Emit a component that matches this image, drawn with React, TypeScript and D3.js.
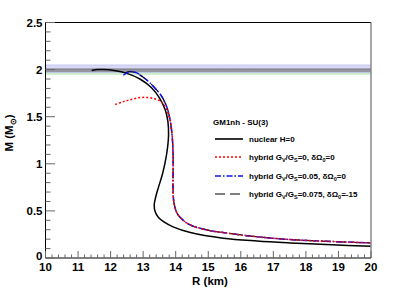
import React from 'react'
import * as d3 from 'd3'

// mass-radius curves, R in km, M in solar masses
const nuclearR = [11.42, 11.6, 11.8, 12.1, 12.5, 12.9, 13.25, 13.5, 13.68, 13.76, 13.78, 13.72, 13.6, 13.47, 13.38, 13.34, 13.37, 13.47, 13.65, 13.92, 14.45, 15.46, 16.5, 17.52, 18.8, 20]
const nuclearM = [1.99, 2.0, 2.0, 1.99, 1.96, 1.9, 1.81, 1.7, 1.57, 1.45, 1.3, 1.1, 0.9, 0.75, 0.64, 0.56, 0.49, 0.43, 0.38, 0.33, 0.27, 0.21, 0.18, 0.16, 0.14, 0.124]

// common hybrid branch (all three hybrid curves collapse on it)
const branchR = [13.83, 13.89, 13.92, 13.92, 13.92, 13.95, 14.05, 14.2, 14.45, 15.06, 15.46, 16.5, 17.52, 18.8, 20]
const branchM = [1.46, 1.3, 1.1, 0.9, 0.7, 0.58, 0.47, 0.41, 0.35, 0.29, 0.27, 0.225, 0.196, 0.175, 0.16]

const redR = [12.14, 12.4, 12.6, 12.85, 13.11, 13.35, 13.55, 13.7]
const redM = [1.63, 1.66, 1.68, 1.7, 1.705, 1.69, 1.66, 1.59]

const blueR = [12.39, 12.6, 12.8, 13.11, 13.4, 13.58, 13.75]
const blueM = [1.94, 1.98, 1.965, 1.89, 1.79, 1.71, 1.58]

const dashR = [12.45, 12.6, 12.8, 13.11, 13.4, 13.58, 13.75]
const dashM = [1.965, 1.978, 1.962, 1.89, 1.79, 1.71, 1.58]

// observed pulsar mass bands
const bandLow = [1.945, 1.97]
const bandHigh = [1.99, 2.05]
const bandColors = ['#c8ecc8', '#d8d8f6']
const bandLines = [2.005, 1.985]

const xTicks = [10, 11, 12, 13, 14, 15, 16, 17, 18, 19, 20]
const yTicks = [0, 0.5, 1, 1.5, 2, 2.5]
const yTickLabels = ['0', '0.5', '1', '1.5', '2', '2.5']

const W = 407, H = 295
const margin = { top: 22.5, right: 36, bottom: 37, left: 45.5 }

const zip = (a: number[], b: number[]) => a.map((v, i) => [v, b[i]] as [number, number])

export default function App() {
  const x = d3.scaleLinear().domain([10, 20]).range([margin.left, W - margin.right])
  const y = d3.scaleLinear().domain([0, 2.5]).range([H - margin.bottom, margin.top])
  const line = d3.line<[number, number]>()
    .x(d => x(d[0])).y(d => y(d[1]))
    .curve(d3.curveCatmullRom.alpha(0.5))

  const nuclear = zip(nuclearR, nuclearM)
  const branch = zip(branchR, branchM)
  const red = zip(redR, redM).concat(branch)
  const blue = zip(blueR, blueM).concat(branch)
  const dashed = zip(dashR, dashM).concat(branch)

  const x0 = x.range()[0], x1 = x.range()[1]
  const y0 = y.range()[0], y1 = y.range()[1]
  const xMinor = d3.range(10, 20.001, 0.2)
  const yMinor = d3.range(0, 2.501, 0.1)
  const font = 'Liberation Sans, Arial, Helvetica, sans-serif'

  const legendX = 215
  const legendRows = [
    { y: 139, stroke: '#000', dash: null, w: 1.6 },
    { y: 157, stroke: '#ff0000', dash: '2,2', w: 1.6 },
    { y: 176, stroke: '#1010ee', dash: '6,2,1.5,2', w: 1.6 },
    { y: 194, stroke: '#000', dash: '10,5', w: 1.2 },
  ]

  return (
    <svg width={W} height={H} style={{ position: 'absolute', left: 0, top: 0, background: '#fff' }}
      fontFamily={font} fontWeight="bold">
      {/* bands */}
      {bandLow.map((lo, i) => (
        <rect key={i} x={x0} width={x1 - x0} y={y(bandHigh[i])} height={y(lo) - y(bandHigh[i])}
          fill={bandColors[i]} />
      ))}
      <line x1={x0} x2={x1} y1={y(2.05)} y2={y(2.05)} stroke="#a0a0e8" strokeWidth={0.8} strokeDasharray="1,1" />
      <line x1={x0} x2={x1} y1={y(1.97)} y2={y(1.97)} stroke="#a0a0e8" strokeWidth={0.8} strokeDasharray="1,1" />
      {bandLines.map((m, i) => (
        <line key={i} x1={x0} x2={x1} y1={y(m)} y2={y(m)} stroke="#555" strokeWidth={1} />
      ))}

      {/* curves */}
      <path d={line(nuclear) || ''} fill="none" stroke="#000" strokeWidth={1.5} />
      <path d={line(dashed) || ''} fill="none" stroke="#000" strokeWidth={1.2} strokeDasharray="10,5" />
      <path d={line(blue) || ''} fill="none" stroke="#1010ee" strokeWidth={1.5} strokeDasharray="6,2,1.5,2" />
      <path d={line(red) || ''} fill="none" stroke="#ff0000" strokeWidth={1.5} strokeDasharray="2,2" />

      {/* frame */}
      <line x1={x0} x2={x1} y1={y1} y2={y1} stroke="#000" strokeWidth={1} />
      <line x1={x1} x2={x1} y1={y1} y2={y0} stroke="#888" strokeWidth={1.5} />
      <line x1={x0} x2={x1} y1={y0} y2={y0} stroke="#000" strokeWidth={1} />
      <line x1={x0} x2={x0} y1={y1} y2={y0} stroke="#000" strokeWidth={1} />

      {/* x ticks */}
      {xMinor.map((v, i) => {
        const major = Math.abs(v - Math.round(v)) < 1e-6
        return <line key={i} x1={x(v)} x2={x(v)} y1={y0} y2={y0 - (major ? 7 : 3.5)} stroke="#666" strokeWidth={1} />
      })}
      {xTicks.map(v => (
        <text key={v} x={x(v)} y={y0 + 13} fontSize={11.5} textAnchor="middle">{v}</text>
      ))}
      {/* y ticks */}
      {yMinor.map((v, i) => {
        const major = Math.abs(v * 2 - Math.round(v * 2)) < 1e-6
        return <line key={i} x1={x0} x2={x0 + (major ? 9.5 : 5)} y1={y(v)} y2={y(v)} stroke="#666" strokeWidth={1} />
      })}
      {yTicks.map((v, i) => (
        <text key={v} x={x0 - 3} y={y(v) + (v === 0 ? 2 : 4)} fontSize={11.5} textAnchor="end">{yTickLabels[i]}</text>
      ))}

      {/* axis titles */}
      <text x={210} y={285} fontSize={11.5} textAnchor="middle">R (km)</text>
      <text transform={`translate(13,133) rotate(-90)`} fontSize={11.5} textAnchor="middle">
        M (M<tspan fontSize={8} dy={3}>⊙</tspan><tspan dy={-3}>)</tspan>
      </text>

      {/* legend */}
      <text x={213} y={125} fontSize={8}>GM1nh - SU(3)</text>
      {legendRows.map((r, i) => (
        <line key={i} x1={legendX} x2={legendX + 28} y1={r.y} y2={r.y} stroke={r.stroke} strokeWidth={r.w}
          strokeDasharray={r.dash || undefined} />
      ))}
      <text x={249} y={142} fontSize={8}>nuclear H=0</text>
      <text x={249} y={160} fontSize={8}>hybrid G<tspan fontSize={5.5} dy={2}>V</tspan><tspan dy={-2}>/G</tspan><tspan fontSize={5.5} dy={2}>S</tspan><tspan dy={-2}>=0, δΩ</tspan><tspan fontSize={5.5} dy={2}>0</tspan><tspan dy={-2}>=0</tspan></text>
      <text x={249} y={179} fontSize={8}>hybrid G<tspan fontSize={5.5} dy={2}>V</tspan><tspan dy={-2}>/G</tspan><tspan fontSize={5.5} dy={2}>S</tspan><tspan dy={-2}>=0.05, δΩ</tspan><tspan fontSize={5.5} dy={2}>0</tspan><tspan dy={-2}>=0</tspan></text>
      <text x={249} y={197} fontSize={8}>hybrid G<tspan fontSize={5.5} dy={2}>V</tspan><tspan dy={-2}>/G</tspan><tspan fontSize={5.5} dy={2}>S</tspan><tspan dy={-2}>=0.075, δΩ</tspan><tspan fontSize={5.5} dy={2}>0</tspan><tspan dy={-2}>=-15</tspan></text>
    </svg>
  )
}
